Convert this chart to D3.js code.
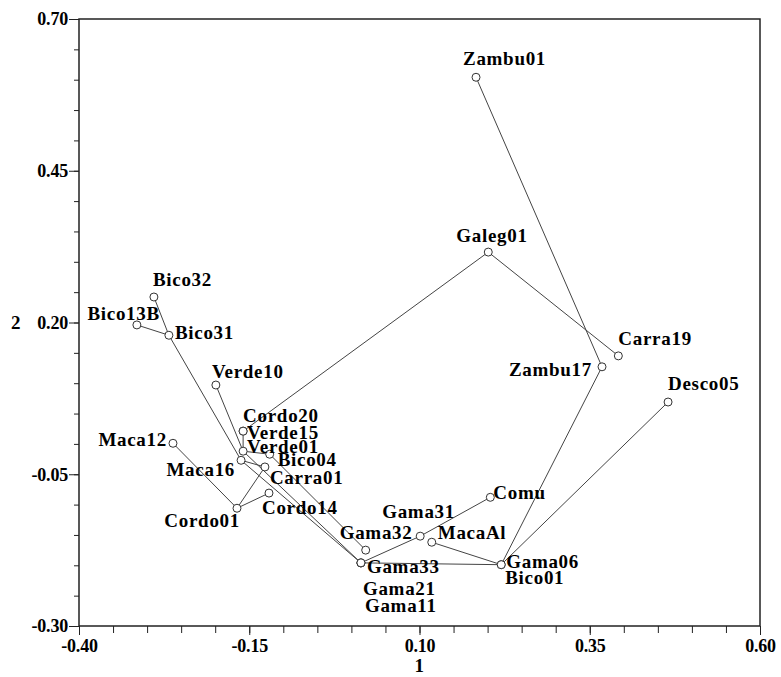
<!DOCTYPE html>
<html>
    <head>
        <meta charset='UTF-8'>
        <title>Dimension 1 vs 2</title>
        <script src='https://d3js.org/d3.v7.min.js'></script>
        <style type='text/css'>
        body { margin: 0; background: #fff; }
        .lbl { font: bold 19px 'Liberation Serif', 'Times New Roman', serif; letter-spacing: 0.7px; fill: #000; }
        .tick text { font: bold 18px 'Liberation Serif', 'Times New Roman', serif; letter-spacing: -0.2px; fill: #000; }
        </style>
    </head>
    <body>
        <div id="container"></div>
    </body>

    <script>
        // point names and coordinates on dimension 1 and 2
        var names = ["Zambu01", "Galeg01", "Carra19", "Zambu17", "Desco05", "Bico32", "Bico13B", "Bico31",
                     "Verde10", "Cordo20", "Verde15", "Verde01", "Bico04", "Maca16", "Carra01", "Maca12",
                     "Cordo01", "Cordo14", "Gama32", "Gama33", "Gama21", "Gama11", "Gama31", "MacaAl",
                     "Comu", "Gama06", "Bico01"];
        var dim1 = [0.183, 0.201, 0.392, 0.368, 0.465, -0.290, -0.315, -0.268,
                    -0.199, -0.159, -0.159, -0.159, -0.120, -0.162, -0.127, -0.262,
                    -0.168, -0.121, 0.021, 0.014, 0.014, 0.014, 0.101, 0.118,
                    0.204, 0.220, 0.220];
        var dim2 = [0.604, 0.316, 0.145, 0.127, 0.069, 0.242, 0.196, 0.179,
                    0.097, 0.021, 0.021, -0.012, -0.017, -0.027, -0.038, 0.001,
                    -0.106, -0.081, -0.175, -0.196, -0.196, -0.196, -0.152, -0.162,
                    -0.088, -0.199, -0.199];

        // links between points
        var links = [["Zambu01", "Zambu17"], ["Zambu17", "Gama06"], ["Galeg01", "Carra19"], ["Galeg01", "Cordo20"],
                     ["Desco05", "Gama06"], ["MacaAl", "Gama06"], ["Gama33", "Gama06"], ["Gama33", "Gama31"],
                     ["Gama31", "Comu"], ["Bico32", "Bico31"], ["Bico13B", "Bico31"], ["Bico31", "Maca16"],
                     ["Verde10", "Verde01"], ["Verde01", "Gama33"], ["Maca16", "Gama33"], ["Bico04", "Gama32"],
                     ["Maca12", "Cordo01"], ["Cordo01", "Cordo14"], ["Cordo01", "Carra01"], ["Cordo20", "Verde01"],
                     ["Verde01", "Bico04"], ["Maca16", "Carra01"]];

        var xTicks = [-0.40, -0.15, 0.10, 0.35, 0.60];
        var yTicks = [-0.30, -0.05, 0.20, 0.45, 0.70];

        // where each label sits relative to its point: dx, dy (baseline), anchor
        var labelPos = {
            Zambu01: [-13, -12, "start"], Galeg01: [-32, -10, "start"], Carra19: [0, -11, "start"],
            Zambu17: [-10, 9, "end"], Desco05: [0, -12, "start"], Bico32: [-1, -11, "start"],
            Bico13B: [23, -5, "end"], Bico31: [6, 4, "start"], Verde10: [-4, -7, "start"],
            Cordo20: [0, -9, "start"], Verde15: [4, 8, "start"], Verde01: [4, 2, "start"],
            Bico04: [8, 12, "start"], Maca16: [-6, 16, "end"], Carra01: [5, 17, "start"],
            Maca12: [-6, 3, "end"], Cordo01: [3, 19, "end"], Cordo14: [-7, 21, "start"],
            Gama32: [-26, -11, "start"], Gama33: [6, 10, "start"], Gama21: [2, 32, "start"],
            Gama11: [4, 49, "start"], Gama31: [-38, -18, "start"], MacaAl: [6, -3, "start"],
            Comu: [3, 2, "start"], Gama06: [5, 3, "start"], Bico01: [4, 19, "start"]
        };

        var points = names.map(function(n, i) { return {name: n, x: dim1[i], y: dim2[i]}; });
        var byName = {};
        points.forEach(function(p) { byName[p.name] = p; });

        var margin = {top: 19, right: 21, bottom: 51, left: 79};
        var width  = 781 - margin.left - margin.right;
        var height = 677 - margin.top - margin.bottom;

        var x = d3.scaleLinear().domain([-0.40, 0.60]).range([0, width]);
        var y = d3.scaleLinear().domain([-0.30, 0.70]).range([height, 0]);

        var fmt = d3.formatLocale({decimal: ".", thousands: ",", grouping: [3], currency: ["", ""], minus: "-"}).format(".2f");

        var svg = d3.select("#container").append("svg")
            .attr("width", 781)
            .attr("height", 677)
            .append("g")
            .attr("transform", "translate(" + margin.left + "," + margin.top + ")");

        // frame
        svg.append("rect")
            .attr("width", width)
            .attr("height", height)
            .attr("fill", "none")
            .attr("stroke", "#222")
            .attr("stroke-width", 1.5);

        // minor ticks
        svg.append("g")
            .attr("transform", "translate(0," + height + ")")
            .call(d3.axisBottom(x).ticks(20).tickSize(7).tickFormat(""))
            .call(function(g) { g.select(".domain").remove(); });
        svg.append("g")
            .call(d3.axisLeft(y).ticks(20).tickSize(5).tickFormat(""))
            .call(function(g) { g.select(".domain").remove(); });

        // major ticks with labels
        svg.append("g")
            .attr("transform", "translate(0," + height + ")")
            .call(d3.axisBottom(x).tickValues(xTicks).tickSize(9).tickPadding(4).tickFormat(fmt))
            .call(function(g) { g.select(".domain").remove(); });
        svg.append("g")
            .call(d3.axisLeft(y).tickValues(yTicks).tickSize(10).tickPadding(1).tickFormat(fmt))
            .call(function(g) { g.select(".domain").remove(); });
        svg.selectAll(".tick line").attr("stroke", "#222");

        // axis titles
        svg.append("text")
            .attr("class", "lbl")
            .attr("x", x(0.10))
            .attr("y", height + 46)
            .attr("text-anchor", "middle")
            .text("1");
        svg.append("text")
            .attr("class", "lbl")
            .attr("x", -68)
            .attr("y", y(0.20) + 6)
            .attr("text-anchor", "start")
            .text("2");

        // links
        svg.selectAll(".link")
            .data(links)
            .enter().append("line")
            .attr("class", "link")
            .attr("x1", function(d) { return x(byName[d[0]].x); })
            .attr("y1", function(d) { return y(byName[d[0]].y); })
            .attr("x2", function(d) { return x(byName[d[1]].x); })
            .attr("y2", function(d) { return y(byName[d[1]].y); })
            .attr("stroke", "#444")
            .attr("stroke-width", 1);

        // points
        svg.selectAll(".dot")
            .data(points)
            .enter().append("circle")
            .attr("class", "dot")
            .attr("cx", function(d) { return x(d.x); })
            .attr("cy", function(d) { return y(d.y); })
            .attr("r", 4)
            .attr("fill", "#fff")
            .attr("stroke", "#333")
            .attr("stroke-width", 1);

        // labels
        svg.selectAll(".name")
            .data(points)
            .enter().append("text")
            .attr("class", "lbl")
            .attr("x", function(d) { return x(d.x) + labelPos[d.name][0]; })
            .attr("y", function(d) { return y(d.y) + labelPos[d.name][1]; })
            .attr("text-anchor", function(d) { return labelPos[d.name][2]; })
            .text(function(d) { return d.name; });
    </script>
</html>
